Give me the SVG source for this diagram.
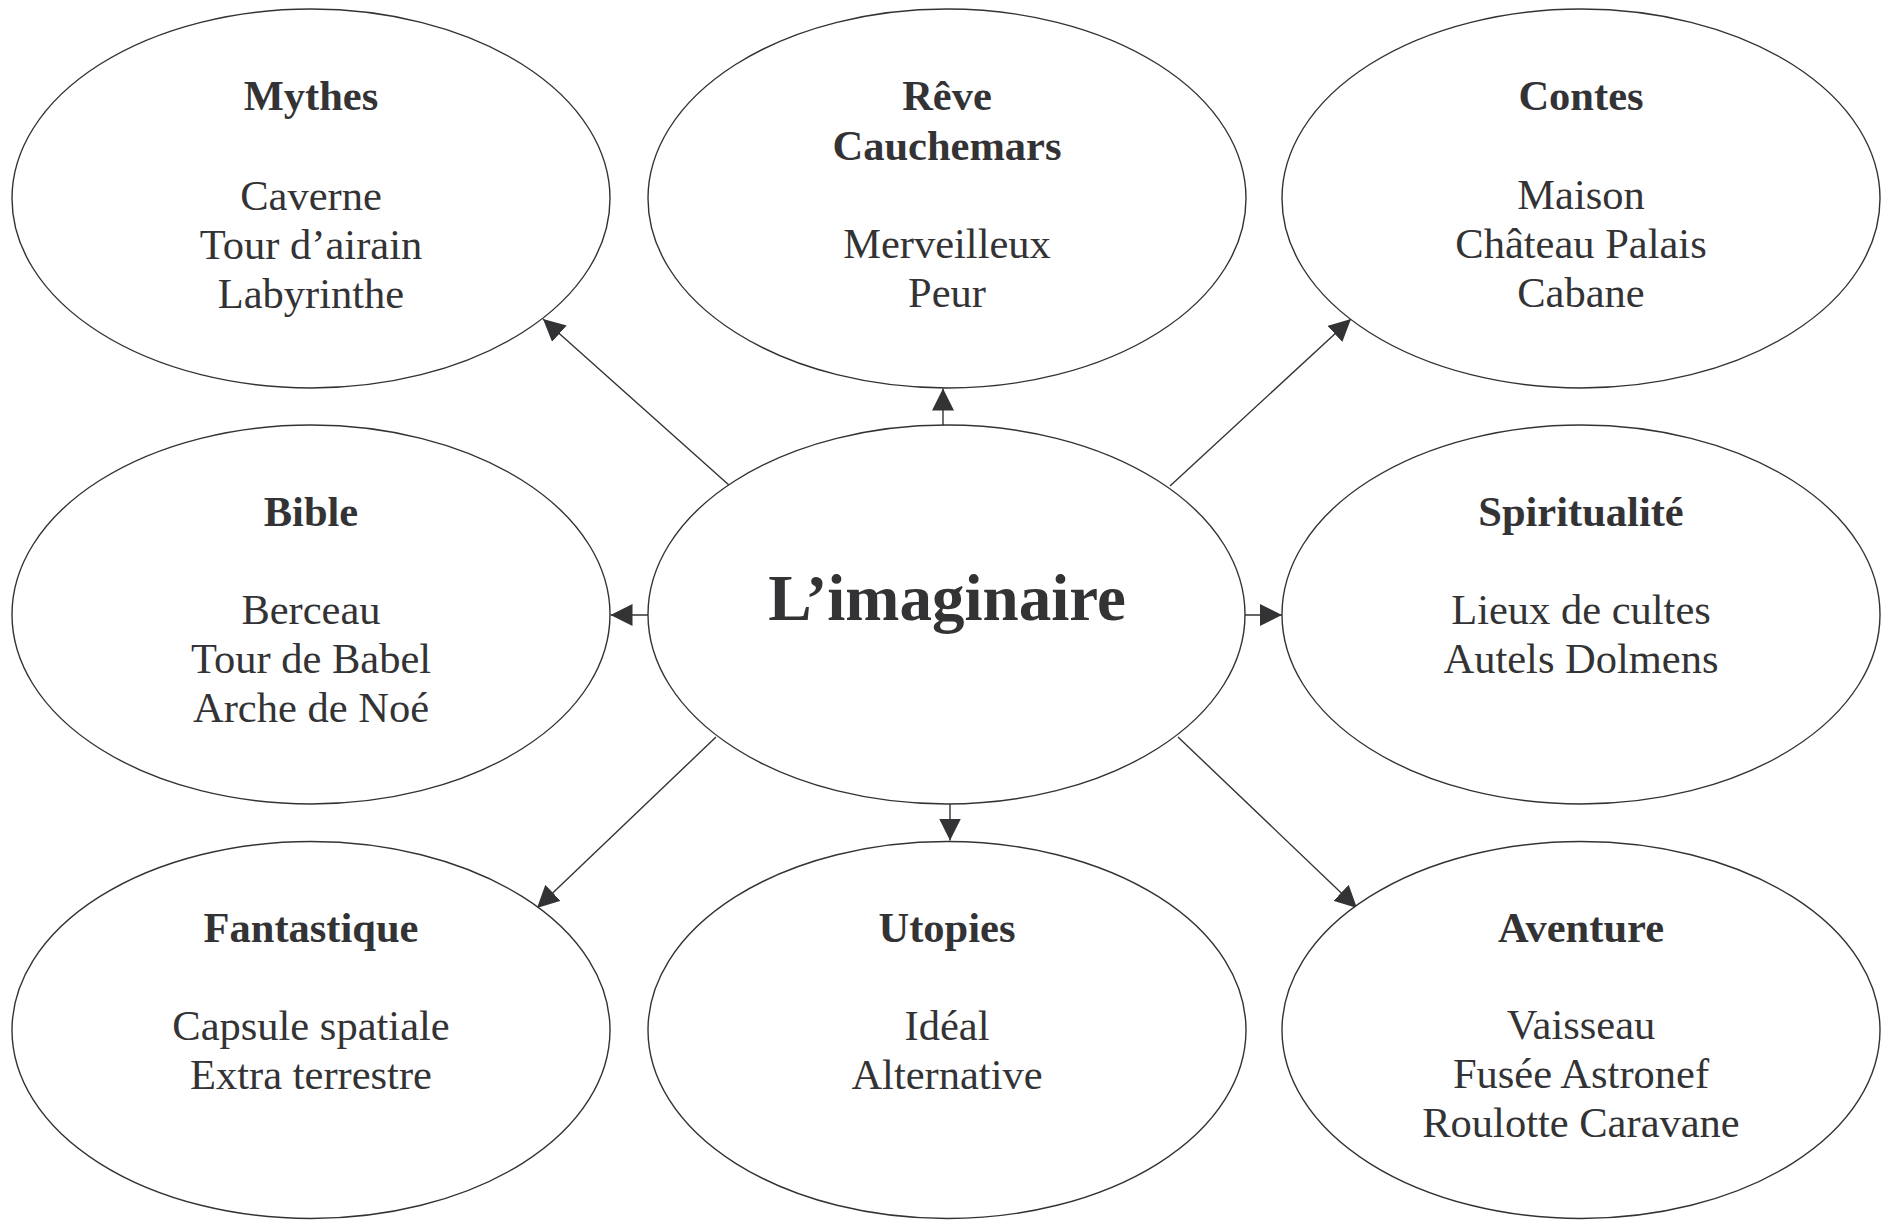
<svg xmlns="http://www.w3.org/2000/svg" width="1885" height="1220" viewBox="0 0 1885 1220">
<style>
.node ellipse{fill:#fff;stroke:#333335;stroke-width:1.4}
text{font-family:"Liberation Serif","Times New Roman",serif;fill:#333335;text-anchor:middle;font-size:42.5px}
.t{font-weight:bold}
.c{font-weight:bold;font-size:65px}
.edges line{stroke:#333335;stroke-width:1.4;marker-end:url(#ah)}
</style>
<defs>
<marker id="ah" markerUnits="userSpaceOnUse" markerWidth="22" markerHeight="22" refX="20" refY="10" orient="auto" viewBox="0 0 20 20">
<path d="M0,0 L20,10 L0,20 z" fill="#333335"/>
</marker>
</defs>
<rect width="1885" height="1220" fill="#fff"/>
<g class="edges" id="connectors">
<line x1="730" y1="486" x2="543" y2="319"/>
<line x1="943" y1="425" x2="943" y2="388.5"/>
<line x1="1170" y1="486" x2="1351" y2="319"/>
<line x1="648" y1="615" x2="610.5" y2="615"/>
<line x1="1245" y1="615" x2="1282" y2="615"/>
<line x1="716" y1="737" x2="537" y2="908"/>
<line x1="950" y1="804" x2="950" y2="840.5"/>
<line x1="1178" y1="737" x2="1357" y2="908"/>
</g>
<g class="node" id="mythes">
<ellipse cx="311" cy="198.5" rx="299" ry="189.5"/>
<text x="311" y="110" class="t">Mythes</text>
<text x="311" y="210">Caverne</text>
<text x="311" y="259">Tour d’airain</text>
<text x="311" y="308">Labyrinthe</text>
</g>
<g class="node" id="reve">
<ellipse cx="947" cy="198.5" rx="299" ry="189.5"/>
<text x="947" y="110" class="t">Rêve</text>
<text x="947" y="160" class="t">Cauchemars</text>
<text x="947" y="258">Merveilleux</text>
<text x="947" y="307">Peur</text>
</g>
<g class="node" id="contes">
<ellipse cx="1581" cy="198.5" rx="299" ry="189.5"/>
<text x="1581" y="110" class="t">Contes</text>
<text x="1581" y="209">Maison</text>
<text x="1581" y="258">Château Palais</text>
<text x="1581" y="307">Cabane</text>
</g>
<g class="node" id="bible">
<ellipse cx="311" cy="614.5" rx="299" ry="189.5"/>
<text x="311" y="526" class="t">Bible</text>
<text x="311" y="624">Berceau</text>
<text x="311" y="673">Tour de Babel</text>
<text x="311" y="722">Arche de Noé</text>
</g>
<g class="node" id="imaginaire">
<ellipse cx="946.5" cy="614.5" rx="298.5" ry="189.5"/>
<text x="947" y="620" class="c">L’imaginaire</text>
</g>
<g class="node" id="spiritualite">
<ellipse cx="1581" cy="614.5" rx="299" ry="189.5"/>
<text x="1581" y="526" class="t">Spiritualité</text>
<text x="1581" y="624">Lieux de cultes</text>
<text x="1581" y="673">Autels Dolmens</text>
</g>
<g class="node" id="fantastique">
<ellipse cx="311" cy="1030" rx="299" ry="188.5"/>
<text x="311" y="942" class="t">Fantastique</text>
<text x="311" y="1040">Capsule spatiale</text>
<text x="311" y="1089">Extra terrestre</text>
</g>
<g class="node" id="utopies">
<ellipse cx="947" cy="1030" rx="299" ry="188.5"/>
<text x="947" y="942" class="t">Utopies</text>
<text x="947" y="1040">Idéal</text>
<text x="947" y="1089">Alternative</text>
</g>
<g class="node" id="aventure">
<ellipse cx="1581" cy="1030" rx="299" ry="188.5"/>
<text x="1581" y="942" class="t">Aventure</text>
<text x="1581" y="1039">Vaisseau</text>
<text x="1581" y="1088">Fusée Astronef</text>
<text x="1581" y="1137">Roulotte Caravane</text>
</g>
</svg>
